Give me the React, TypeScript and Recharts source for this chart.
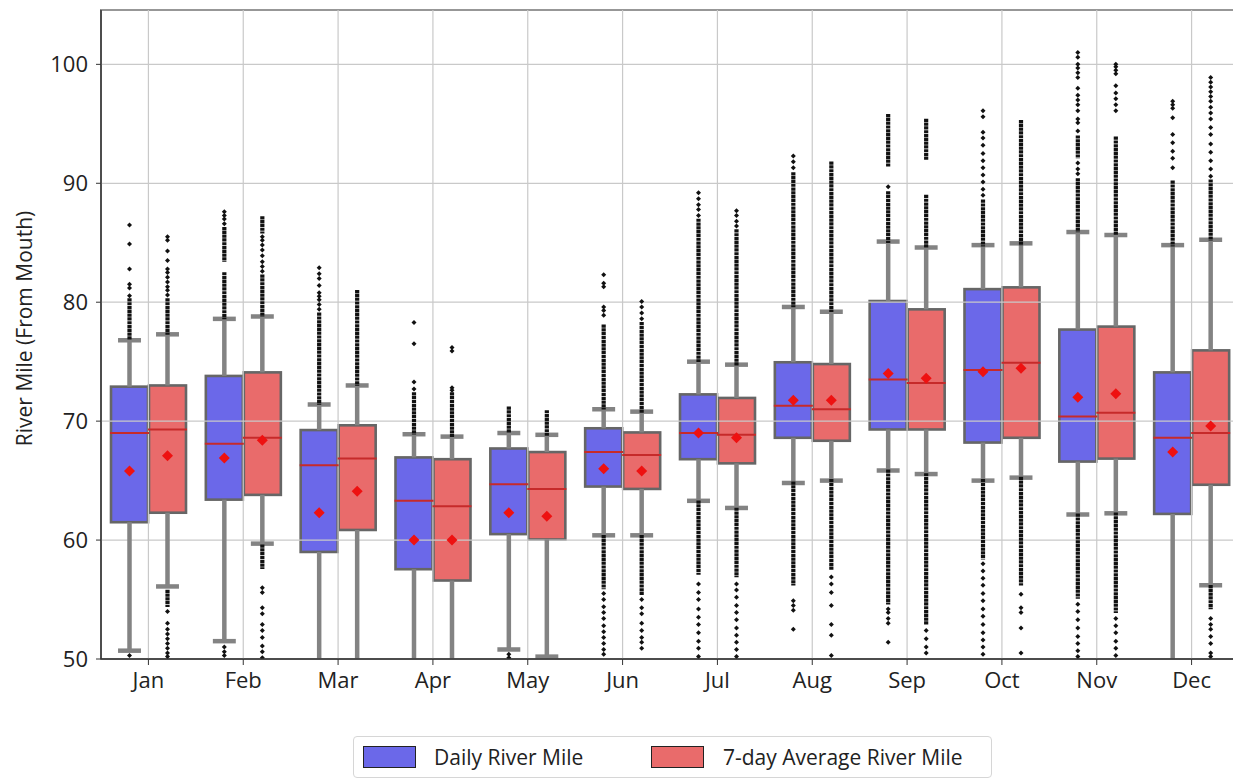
import { ComposedChart, Bar, XAxis, YAxis, CartesianGrid, Legend, ReferenceArea } from "recharts";

const MONTHS = ["Jan", "Feb", "Mar", "Apr", "May", "Jun", "Jul", "Aug", "Sep", "Oct", "Nov", "Dec"];

// Daily River Mile
const Q1_DAILY = [61.5, 63.4, 59.0, 57.55, 60.5, 64.5, 66.8, 68.6, 69.3, 68.2, 66.6, 62.2];
const Q3_DAILY = [72.9, 73.8, 69.25, 66.95, 67.7, 69.4, 72.25, 74.95, 80.1, 81.1, 77.7, 74.1];
const MED_DAILY = [69.0, 68.1, 66.3, 63.3, 64.7, 67.4, 69.0, 71.3, 73.5, 74.3, 70.4, 68.6];
const MEAN_DAILY = [65.8, 66.9, 62.3, 60.0, 62.3, 66.0, 69.0, 71.75, 74.0, 74.15, 72.0, 67.4];
const HI_DAILY = [76.8, 78.6, 71.4, 68.9, 69.0, 71.0, 75.0, 79.6, 85.1, 84.8, 85.9, 84.8];
const LO_DAILY = [50.7, 51.5, 47.0, 47.0, 50.8, 60.4, 63.3, 64.8, 65.85, 65.0, 62.15, 47.0];
// dense flier runs [from, to] and single fliers
const RUNS_DAILY = [
  [[77.0, 80.2]],
  [[78.7, 82.4], [83.5, 86.2]],
  [[71.5, 79.0]],
  [[69.0, 72.3]],
  [[69.1, 71.1]],
  [[71.1, 78.0], [56.0, 60.3]],
  [[75.1, 86.9], [57.2, 63.2]],
  [[79.7, 90.8], [56.3, 64.8]],
  [[85.1, 89.2], [91.5, 95.7], [54.7, 65.8]],
  [[84.8, 88.5], [58.5, 65.0]],
  [[86.0, 90.3], [92.2, 93.9], [55.2, 62.1]],
  [[84.8, 90.1]],
];
const PTS_DAILY = [
  [80.55, 81.2, 81.5, 82.8, 84.9, 86.5, 50.3],
  [86.6, 87.0, 87.3, 87.6, 51.0, 50.6, 50.3],
  [79.4, 79.8, 80.2, 80.5, 80.8, 81.4, 82.0, 82.4, 82.9],
  [72.7, 73.3, 76.5, 78.3],
  [50.4, 50.1],
  [78.9, 79.3, 79.6, 81.3, 81.6, 82.3, 55.5, 55.0, 54.4, 53.9, 53.4, 52.8, 52.3, 51.8, 51.3, 50.8, 50.4],
  [87.3, 87.8, 88.2, 88.7, 89.2, 56.3, 55.6, 55.0, 54.2, 53.5, 52.9, 52.2, 51.5, 50.9, 50.2],
  [91.3, 91.8, 92.3, 54.9, 54.5, 54.1, 52.5],
  [89.7, 54.2, 53.9, 53.4, 53.0, 51.4],
  [89.0, 89.5, 90.1, 90.7, 91.3, 91.9, 92.5, 93.2, 93.8, 94.3, 95.6, 96.1, 58.0, 57.4, 56.8, 56.2, 55.5, 54.9, 54.2, 53.6, 52.9, 52.2, 51.6, 51.0, 50.4],
  [90.8, 91.2, 91.7, 94.4, 95.1, 95.4, 96.1, 96.6, 97.0, 97.4, 98.0, 98.9, 99.3, 99.7, 100.0, 100.6, 101.0, 54.6, 54.0, 53.3, 52.6, 51.9, 51.3, 50.7, 50.2],
  [91.3, 92.1, 92.7, 93.4, 94.1, 95.5, 96.3, 96.6, 96.9],
];

// 7-day Average River Mile
const Q1_AVG = [62.3, 63.8, 60.85, 56.6, 60.05, 64.3, 66.45, 68.35, 69.3, 68.6, 66.85, 64.65];
const Q3_AVG = [73.0, 74.1, 69.65, 66.8, 67.4, 69.05, 71.95, 74.8, 79.4, 81.25, 77.95, 75.95];
const MED_AVG = [69.3, 68.6, 66.85, 62.85, 64.3, 67.15, 68.85, 71.0, 73.2, 74.9, 70.7, 69.0];
const MEAN_AVG = [67.1, 68.4, 64.1, 60.0, 62.0, 65.8, 68.6, 71.75, 73.6, 74.45, 72.3, 69.6];
const HI_AVG = [77.3, 78.8, 73.0, 68.7, 68.85, 70.8, 74.75, 79.2, 84.6, 84.95, 85.65, 85.25];
const LO_AVG = [56.1, 59.7, 47.0, 47.0, 50.2, 60.4, 62.7, 65.0, 65.55, 65.25, 62.25, 56.2];
const RUNS_AVG = [
  [[77.4, 80.2], [54.5, 55.7]],
  [[78.9, 82.2], [85.9, 87.1], [57.7, 59.5]],
  [[73.1, 80.9]],
  [[68.8, 72.3]],
  [[68.9, 70.8]],
  [[70.8, 78.2], [55.5, 60.3]],
  [[74.8, 86.0], [57.0, 62.6]],
  [[79.3, 91.7], [57.6, 65.0]],
  [[84.7, 88.9], [92.1, 95.3], [53.0, 65.5]],
  [[84.9, 95.2], [56.3, 65.2]],
  [[85.8, 93.8], [54.0, 62.2]],
  [[85.3, 90.2], [54.3, 56.1]],
];
const PTS_AVG = [
  [80.6, 81.0, 81.3, 81.7, 82.1, 82.5, 82.8, 83.5, 84.3, 85.2, 85.5, 54.0, 53.0, 52.5, 52.1, 51.7, 51.3, 50.9, 50.5, 50.2],
  [82.6, 83.0, 83.4, 83.9, 84.4, 84.8, 85.2, 85.5, 56.0, 55.6, 54.3, 53.8, 52.9, 52.4, 51.8, 51.1, 50.6, 50.1],
  [],
  [72.6, 72.8, 75.9, 76.2],
  [],
  [78.6, 79.1, 79.6, 80.05, 55.0, 54.3, 53.8, 53.0, 52.4, 51.8, 51.4, 50.9],
  [86.4, 86.8, 87.3, 87.7, 56.3, 55.8, 55.2, 54.5, 53.9, 53.3, 52.6, 52.0, 51.4, 50.8, 50.2],
  [56.9, 56.3, 55.6, 54.5, 52.9, 52.0, 50.3],
  [52.4, 51.7, 51.0, 50.5],
  [55.45, 54.3, 53.9, 52.6, 50.5],
  [96.1, 96.6, 97.1, 97.6, 98.2, 99.2, 99.5, 99.8, 100.0, 53.4, 52.8, 52.2, 51.5, 50.9, 50.3],
  [90.6, 91.2, 91.9, 92.6, 93.3, 94.1, 94.7, 95.4, 95.9, 96.4, 96.9, 97.3, 97.7, 98.1, 98.5, 98.9, 53.4, 52.9, 52.5, 51.9, 51.3, 50.5, 50.2],
];

const Y_MIN = 50;
const Y_MAX = 104.57;
const Y_TICKS = [50, 60, 70, 80, 90, 100];

const BLUE = "#6b68e9";
const RED = "#e96b6b";
const FONT = "'Open Sans', sans-serif";

type Stats = {
  q1: number[];
  q3: number[];
  med: number[];
  mean: number[];
  lo: number[];
  hi: number[];
  runs: number[][][];
  pts: number[][];
};

const DAILY: Stats = { q1: Q1_DAILY, q3: Q3_DAILY, med: MED_DAILY, mean: MEAN_DAILY, lo: LO_DAILY, hi: HI_DAILY, runs: RUNS_DAILY, pts: PTS_DAILY };
const AVG: Stats = { q1: Q1_AVG, q3: Q3_AVG, med: MED_AVG, mean: MEAN_AVG, lo: LO_AVG, hi: HI_AVG, runs: RUNS_AVG, pts: PTS_AVG };

const rows = MONTHS.map((month, i) => ({
  month,
  daily: [Q1_DAILY[i], Q3_DAILY[i]],
  avg: [Q1_AVG[i], Q3_AVG[i]],
}));

function BoxShape(props: any) {
  const { x, y, width, height, fill } = props;
  return <rect x={x} y={y} width={width} height={height} fill={fill} stroke="#666666" strokeWidth={2.6} />;
}

// whiskers, caps, median, fliers and mean, scaled from the bar's own q1/q3 pixels
function makeOverlay(s: Stats) {
  return function Overlay(props: any) {
    const { x, y, width, height, payload } = props;
    const i = payload ? MONTHS.indexOf(payload.month) : props.index;
    const q1 = s.q1[i];
    const q3 = s.q3[i];
    const yHigh = y;
    const yLow = y + height;
    const py = (v: number) => yLow + ((v - q1) * (yHigh - yLow)) / (q3 - q1);
    const clamp = (v: number) => Math.min(Math.max(v, Y_MIN), Y_MAX);
    const cx = x + width / 2;
    const capHalf = width * 0.31;
    const hiY = py(clamp(s.hi[i]));
    const loY = py(clamp(s.lo[i]));
    const meanY = py(s.mean[i]);
    const medY = py(s.med[i]);
    return (
      <g>
        <line x1={cx} x2={cx} y1={yHigh} y2={hiY} stroke="#838383" strokeWidth={4.5} />
        <line x1={cx} x2={cx} y1={yLow} y2={loY} stroke="#838383" strokeWidth={4.5} />
        {s.hi[i] <= Y_MAX && (
          <line x1={cx - capHalf} x2={cx + capHalf} y1={hiY} y2={hiY} stroke="#838383" strokeWidth={4.5} />
        )}
        {s.lo[i] >= Y_MIN && (
          <line x1={cx - capHalf} x2={cx + capHalf} y1={loY} y2={loY} stroke="#838383" strokeWidth={4.5} />
        )}
        <line x1={x - 1} x2={x + width + 1} y1={medY} y2={medY} stroke="#c62a2a" strokeWidth={2} />
        {s.runs[i].map(([a, b], k) => {
          const top = py(clamp(Math.max(a, b)));
          const bot = py(clamp(Math.min(a, b)));
          return (
            <line
              key={"r" + k}
              x1={cx}
              x2={cx}
              y1={top - 1.5}
              y2={bot + 1.5}
              stroke="#111"
              strokeWidth={4.2}
              strokeDasharray="3.2 0.6"
            />
          );
        })}
        {s.pts[i]
          .filter((v) => v >= Y_MIN && v <= Y_MAX)
          .map((v, k) => {
            const p = py(v);
            return (
              <path
                key={"p" + k}
                d={`M${cx},${p - 2.5}L${cx + 2.5},${p}L${cx},${p + 2.5}L${cx - 2.5},${p}Z`}
                fill="#111"
              />
            );
          })}
        <path
          d={`M${cx},${meanY - 5.5}L${cx + 5.5},${meanY}L${cx},${meanY + 5.5}L${cx - 5.5},${meanY}Z`}
          fill="#ee1111"
        />
      </g>
    );
  };
}

const DailyOverlay = makeOverlay(DAILY);
const AvgOverlay = makeOverlay(AVG);

function LegendBox() {
  const swatch = (left: number, color: string) => (
    <div
      style={{
        position: "absolute",
        left,
        top: 9,
        width: 53,
        height: 22,
        background: color,
        border: "1.5px solid #222",
        boxSizing: "border-box",
      }}
    />
  );
  const label = (left: number, text: string) => (
    <div style={{ position: "absolute", left, top: 0, height: 40, lineHeight: "40px", whiteSpace: "nowrap" }}>
      {text}
    </div>
  );
  return (
    <div
      style={{
        position: "relative",
        width: 639,
        height: 42,
        border: "1px solid #d6d6d6",
        borderRadius: 4,
        boxSizing: "border-box",
        background: "#fff",
        fontFamily: FONT,
        fontSize: 21,
        color: "#222",
      }}
    >
      {swatch(9, BLUE)}
      {label(80, "Daily River Mile")}
      {swatch(297, RED)}
      {label(369, "7-day Average River Mile")}
    </div>
  );
}

function YLabel(props: any) {
  const vb = props.viewBox || { x: 0, y: 0, width: 93, height: 650 };
  const x = vb.x + 24;
  const y = vb.y + vb.height / 2 - 6;
  return (
    <text
      x={x}
      y={y}
      transform={`rotate(-90, ${x}, ${y})`}
      textAnchor="middle"
      fontFamily={FONT}
      fontSize={21}
      fill="#222"
    >
      River Mile (From Mouth)
    </text>
  );
}

export default function App() {
  return (
    <ComposedChart
      width={1233}
      height={770}
      data={rows}
      margin={{ top: 2, right: 2, bottom: 0, left: 0 }}
      barGap={1}
    >
      <Bar dataKey="daily" fill={BLUE} barSize={37} shape={BoxShape} isAnimationActive={false} />
      <Bar dataKey="avg" fill={RED} barSize={37} shape={BoxShape} isAnimationActive={false} />
      <CartesianGrid stroke="#c9c9c9" strokeWidth={1.2} zIndex={350} />
      <Bar
        xAxisId="top"
        dataKey="daily"
        fill="none"
        barSize={37}
        shape={DailyOverlay}
        isAnimationActive={false}
        zIndex={400}
      />
      <Bar
        xAxisId="top"
        dataKey="avg"
        fill="none"
        barSize={37}
        shape={AvgOverlay}
        isAnimationActive={false}
        zIndex={400}
      />
      <ReferenceArea y1={Y_MIN} y2={Y_MAX} fill="none" stroke="#333" strokeWidth={1.5} ifOverflow="visible" />
      <XAxis
        dataKey="month"
        height={77}
        tickSize={6}
        tickMargin={7}
        tick={{ fontSize: 22, fill: "#222", fontFamily: FONT }}
        tickLine={{ stroke: "#333" }}
        axisLine={{ stroke: "#333", strokeWidth: 1.5 }}
      />
      <XAxis xAxisId="top" dataKey="month" orientation="top" height={0} hide />
      <YAxis
        width={93}
        type="number"
        domain={[Y_MIN, Y_MAX]}
        allowDataOverflow
        ticks={Y_TICKS}
        tickSize={5}
        tickMargin={8}
        tick={{ fontSize: 22, fill: "#222", fontFamily: FONT }}
        tickLine={{ stroke: "#333" }}
        axisLine={{ stroke: "#333", strokeWidth: 1.5 }}
        label={<YLabel />}
      />
      <Legend
        verticalAlign="bottom"
        content={() => <LegendBox />}
        wrapperStyle={{ left: 345, bottom: 0, width: 639, height: 42 }}
      />
    </ComposedChart>
  );
}
